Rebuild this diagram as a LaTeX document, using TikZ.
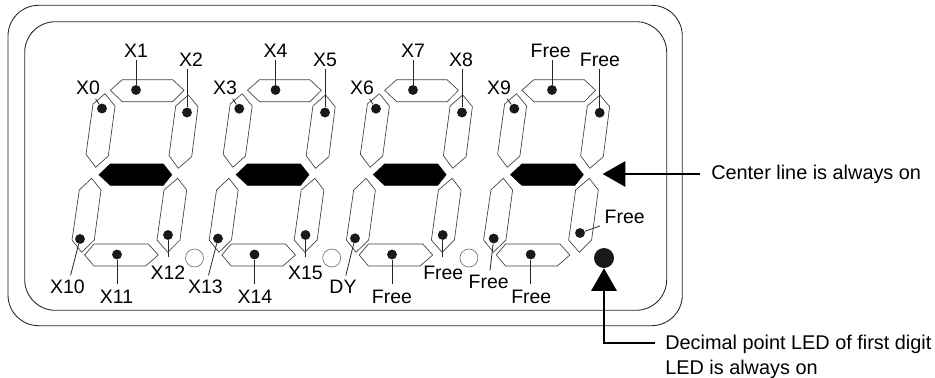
\documentclass[tikz,border=0pt]{standalone}
\usepackage{fontspec}
\setmainfont{Liberation Sans}
\usetikzlibrary{arrows.meta}
\tikzset{
  segment/.style={draw=black!75, line width=0.5pt, fill=white, line join=round},
  centerseg/.style={draw=black, fill=black, line width=0.5pt},
  ledspot/.style={circle, fill=black!90, inner sep=0pt, minimum size=7.4pt},
  paleled/.style={circle, draw=black!55, line width=0.5pt, inner sep=0pt, minimum size=13.5pt},
  ledname/.style={inner sep=1.5pt, font=\fontsize{14.6}{16}\selectfont},
  leader/.style={draw=black!85, line width=0.6pt},
  frameline/.style={draw=black!85, line width=0.65pt, rounded corners=23pt},
  pointer/.style={line width=1.6pt, -{Triangle[length=17pt, width=19pt]}},
  noteline/.style={inner sep=0pt, align=left, font=\fontsize{14.9}{18.5}\selectfont}
}
\begin{document}
\begin{tikzpicture}[x=0.75pt, y=-0.75pt]
\useasboundingbox (0,0) rectangle (935,378);
\draw[frameline] (8,5.3) rectangle (682.3,325.7);
\draw[frameline] (24.7,21.7) rectangle (666.7,310.3);
\foreach \d in {0,1,2,3} {
  \begin{scope}[xshift={\d*102.9pt}]
  \draw[segment] (110.3,90.3) -- (122.3,79.7) -- (172.7,79.7) -- (184,90.3) -- (172.7,101.7) -- (122.3,101.7) -- cycle;
  \draw[segment] (105,93.7) -- (115,106) -- (108.3,156) -- (95.7,167.3) -- (86,154.3) -- (93,104) -- cycle;
  \draw[segment] (188.3,95) -- (198,106.7) -- (191.7,156.7) -- (178.3,168.3) -- (169,155.7) -- (175.7,106) -- cycle;
  \draw[centerseg] (99,174.7) -- (110.3,164) -- (163.3,164) -- (171.7,174.7) -- (163.3,185.3) -- (110.3,185.3) -- cycle;
  \draw[segment] (91.7,178.3) -- (101,190) -- (94.3,240) -- (81.7,252.3) -- (72,240) -- (79.3,190) -- cycle;
  \draw[segment] (177.7,178.3) -- (186.7,190) -- (180,240) -- (167.7,252.3) -- (157,240) -- (164,190) -- cycle;
  \draw[segment] (84.7,255) -- (94,244) -- (148.3,244) -- (158.3,255) -- (145.7,266) -- (94,266) -- cycle;
  \end{scope}
}
\foreach \d in {1,2,3} {
  \node[paleled] (pale\d) at ({57.3+\d*137.2},258) {};
}
\foreach \k/\t/\dx/\dy/\lx/\ly in {
  a/X1/136/90/136/51, b/X2/187/112.5/191/60,
  c/X4/275.5/90/275.5/51, d/X5/325/112.5/325/60,
  e/X7/413/90/413/51, f/X8/462/112.5/461/60,
  g/Free/552/90/550.7/51, h/Free/599.7/112.7/600/60} {
  \node[ledspot] (spot\k) at (\dx,\dy) {};
  \node[ledname] (name\k) at (\lx,\ly) {\t};
  \draw[leader] (name\k.south -| spot\k) -- (spot\k);
}
\foreach \k/\t/\dx/\dy/\lx/\ly in {
  i/X11/117/254.5/116.5/297, j/X14/254.5/254.5/255/297,
  k/Free/392/254.5/392/297, l/Free/530.7/254.5/531.3/297} {
  \node[ledspot] (spot\k) at (\dx,\dy) {};
  \node[ledname] (name\k) at (\lx,\ly) {\t};
  \draw[leader, shorten <=3pt] (name\k.north -| spot\k) -- (spot\k);
}
\foreach \k/\t/\dx/\dy/\lx/\ly in {
  m/X12/168/235/168/272.5, n/X15/305.5/235/305.5/272.5,
  o/Free/442.7/235/443.3/272.5} {
  \node[ledspot] (spot\k) at (\dx,\dy) {};
  \node[ledname] (name\k) at (\lx,\ly) {\t};
  \draw[leader, shorten <=5pt] (name\k.north -| spot\k) -- (spot\k);
}
\foreach \k/\t/\dx/\dy/\lx/\ly in {
  p/X0/102/108.5/88/87.5, q/X3/239.3/108.7/225/87.5,
  r/X6/376/108.7/362/87.5, s/X9/514.3/108.7/499/87.5,
  t/X10/80/239/67.5/287, u/X13/218/238.5/205.5/287,
  v/DY/355/238.3/343/287, w/Free/493.7/238.5/488.7/282,
  x/Free/580/233/624.7/217.3} {
  \node[ledspot] (spot\k) at (\dx,\dy) {};
  \node[ledname] (name\k) at (\lx,\ly) {\t};
  \draw[leader, shorten <=2pt] (name\k) -- (spot\k);
}
\node[circle, fill=black!90, inner sep=0pt, minimum size=15pt] (decimal) at (604,258) {};
\coordinate (centertip) at (602.7,174);
\node[noteline, anchor=west] (centernote) at (711,174) {Center line is always on};
\draw[pointer] (700,174) -- (centertip);
\node[noteline, anchor=north west] (decimalnote) at (665,335) {Decimal point LED of first digit\\LED is always on};
\draw[pointer] (655,343.3) -| (decimal);
\end{tikzpicture}
\end{document}
